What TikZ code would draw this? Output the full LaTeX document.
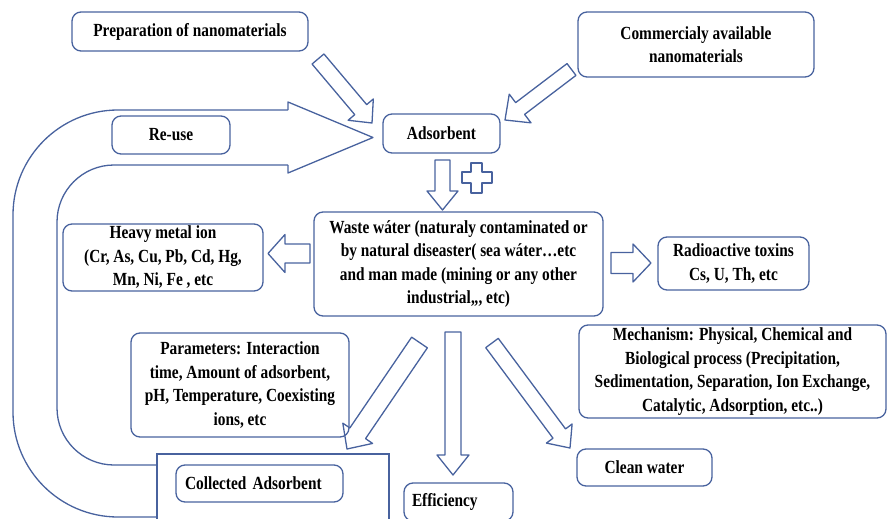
\documentclass[tikz,border=0pt]{standalone}
\usepackage{fontspec}
\setmainfont{Liberation Serif}[FakeStretch=0.83]
\usepackage{tikz}
\usetikzlibrary{calc}

\definecolor{boxline}{RGB}{72,98,158}

% hollow block arrow: tail, tip, half shaft, half head, head length
\newcommand{\hollowarrow}[5]{%
  \coordinate (hb) at ($(#2)!#5!(#1)$);
  \draw[flowline] ($(#1)!#3!90:(#2)$) -- ($(hb)!#3!-90:(#1)$) -- ($(hb)!#4!-90:(#1)$)
    -- (#2) -- ($(hb)!#4!90:(#1)$) -- ($(hb)!#3!90:(#1)$) -- ($(#1)!#3!-90:(#2)$) -- cycle;
}

\begin{document}
\begin{tikzpicture}[x=1pt,y=-1pt,
  every node/.style={font=\fontsize{18.5}{23.5}\selectfont\bfseries},
  box/.style={draw=boxline, line width=1.3pt, rounded corners=9pt, align=center, inner sep=0pt},
  flowline/.style={draw=boxline, line width=1.3pt, line join=round}]
  \useasboundingbox (0,0) rectangle (887,519);
  \clip (0,0) rectangle (887,519);

  \node[box, minimum width=236pt, minimum height=39pt] (prep) at (190,31.5) {Preparation of nanomaterials};
  \node[box, minimum width=236pt, minimum height=65pt] (comm) at (696,44.5) {Commercialy available\\nanomaterials};
  \node[box, minimum width=118pt, minimum height=38pt] (reuse) at (171,135) {Re-use};
  \node[box, minimum width=117pt, minimum height=39pt] (ads) at (441.5,133.5) {Adsorbent};
  \node[box, minimum width=200pt, minimum height=67pt] (heavy) at (163,257.5)
    {Heavy metal ion\\(Cr, As, Cu, Pb, Cd, Hg,\\Mn, Ni, Fe , etc};
  \node[box, minimum width=289pt, minimum height=104pt] (waste) at (458.5,264)
    {Waste wáter (naturaly contaminated or\\by natural diseaster( sea wáter…etc\\and man made (mining or any other\\industrial,,, etc)};
  \node[box, minimum width=151pt, minimum height=53pt] (radio) at (733.5,263.5)
    {Radioactive toxins\\Cs, U, Th, etc};
  \node[box, minimum width=218pt, minimum height=104pt] (param) at (240,385)
    {Parameters: Interaction\\time, Amount of adsorbent,\\pH, Temperature, Coexisting\\ions, etc};
  \node[box, minimum width=307pt, minimum height=93pt] (mech) at (732.5,371.5)
    {Mechanism: Physical, Chemical and\\Biological process (Precipitation,\\Sedimentation, Separation, Ion Exchange,\\Catalytic, Adsorption, etc..)};
  \node[box, minimum width=135pt, minimum height=37pt] (clean) at (644.5,467.5) {Clean water};
  \node[draw=boxline, line width=1.3pt, minimum width=232pt, minimum height=86pt, inner sep=0pt] (collframe) at (273,497) {};
  \node[box, minimum width=167pt, minimum height=37pt, text width=149pt, align=left] (coll) at (259.5,483.5) {Collected Adsorbent};
  \node[box, minimum width=109pt, minimum height=38pt, text width=93pt, align=left] (eff) at (458.5,502) {Efficiency};

  % ends of the block arrows
  \coordinate (prep-a) at (318,59);    \coordinate (prep-b) at (372,123);
  \coordinate (comm-a) at (571.5,69.5); \coordinate (comm-b) at (505,120);
  \coordinate (ads-a) at (442.5,160);  \coordinate (ads-b) at (442.5,210);
  \coordinate (heavy-a) at (310,253.5); \coordinate (heavy-b) at (268,253.5);
  \coordinate (radio-a) at (611,263);  \coordinate (radio-b) at (651,263);
  \coordinate (param-a) at (419.5,342.5); \coordinate (param-b) at (347,449);
  \coordinate (eff-a) at (453,332);    \coordinate (eff-b) at (453,475);
  \coordinate (clean-a) at (492,343);  \coordinate (clean-b) at (570,448);

  \hollowarrow{prep-a}{prep-b}{7.8pt}{16.5pt}{17.5pt}
  \hollowarrow{comm-a}{comm-b}{7.4pt}{18pt}{19pt}
  \hollowarrow{ads-a}{ads-b}{7.5pt}{15.5pt}{19pt}
  \hollowarrow{heavy-a}{heavy-b}{9.5pt}{19pt}{17pt}
  \hollowarrow{radio-a}{radio-b}{10.5pt}{19pt}{18pt}
  \hollowarrow{param-a}{param-b}{9.5pt}{18pt}{19pt}
  \hollowarrow{eff-a}{eff-b}{8pt}{16pt}{20pt}
  \hollowarrow{clean-a}{clean-b}{7.8pt}{16pt}{18pt}

  % plus sign
  \draw[flowline] (471,163) -- (482,163) -- (482,172) -- (492,172) -- (492,183) -- (482,183)
    -- (482,193) -- (471,193) -- (471,183) -- (462,183) -- (462,172) -- (471,172) -- cycle;

  % re-use loop back to the adsorbent
  \draw[flowline, rounded corners=105pt] (collframe.west |- 0,517) -- (13,517) -- (13,110) -- (288,110);
  \draw[flowline] (288,110) -- (288,102) -- (373,137.5) -- (288,173) -- (288,165);
  \draw[flowline, rounded corners=57pt] (288,165) -- (57,165) -- (57,465) -- (collframe.west |- 0,465);
\end{tikzpicture}
\end{document}
